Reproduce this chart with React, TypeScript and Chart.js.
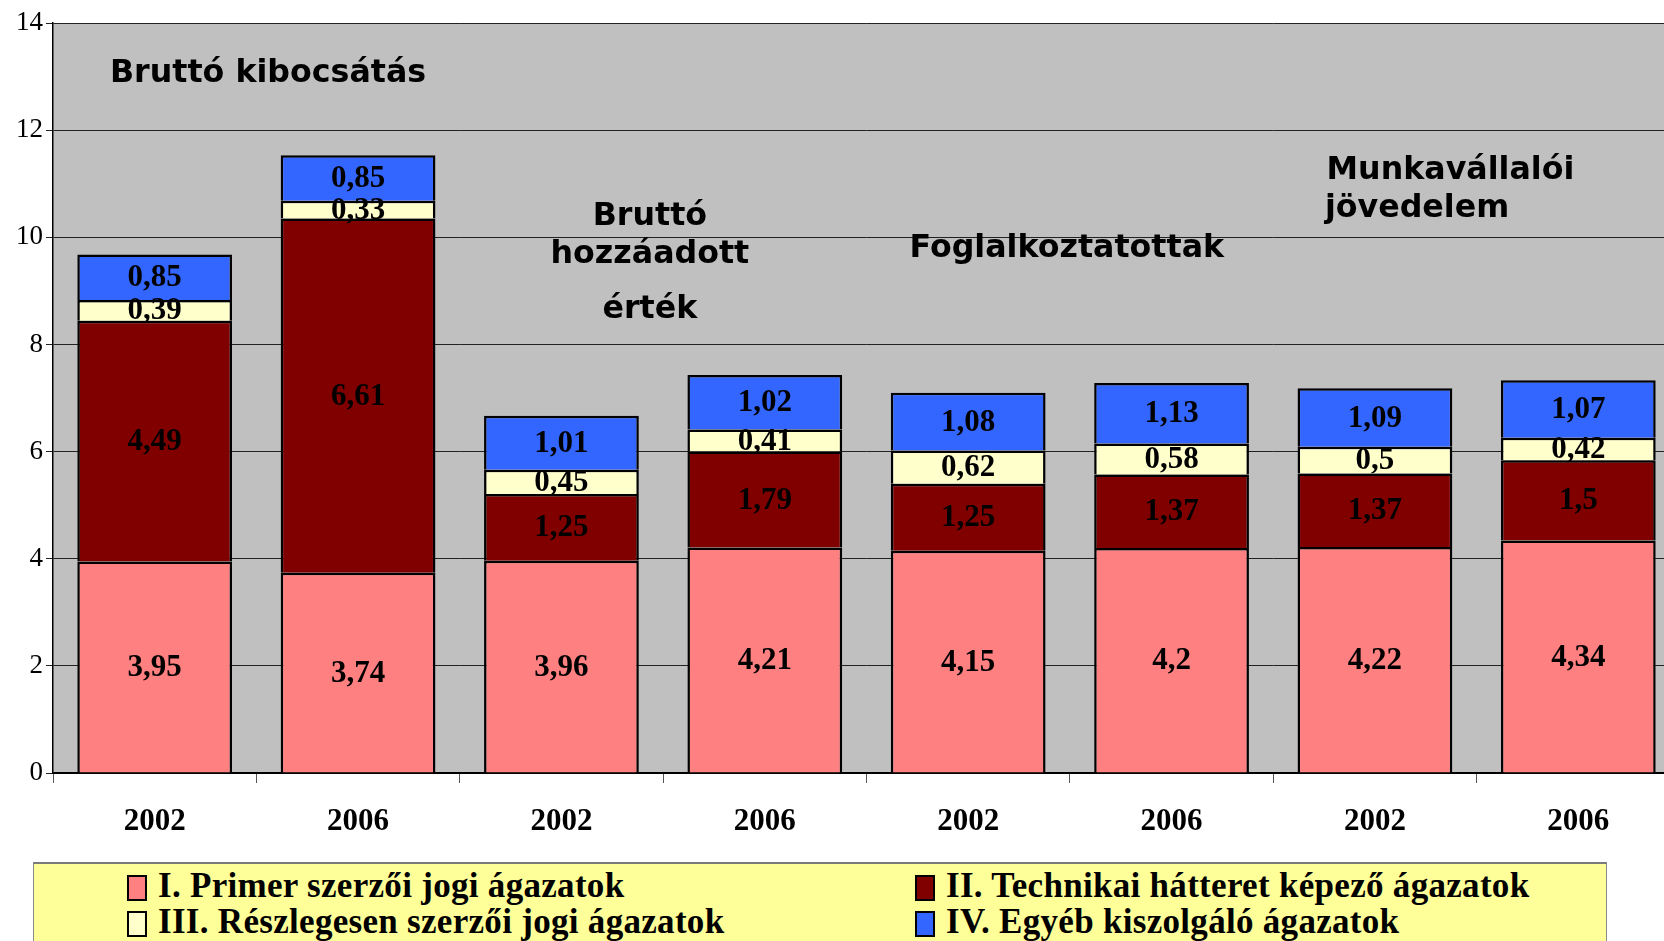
import React, { useEffect, useRef } from "react";
import { Chart, registerables } from "chart.js";

Chart.register(...registerables);

const categories = ["2002", "2006", "2002", "2006", "2002", "2006", "2002", "2006"];
const seriesNames = [
  "I. Primer szerzői jogi ágazatok",
  "II. Technikai hátteret képező ágazatok",
  "III. Részlegesen szerzői jogi ágazatok",
  "IV. Egyéb kiszolgáló ágazatok",
];
const primer = [3.95, 3.74, 3.96, 4.21, 4.15, 4.2, 4.22, 4.34];
const technikai = [4.49, 6.61, 1.25, 1.79, 1.25, 1.37, 1.37, 1.5];
const reszleges = [0.39, 0.33, 0.45, 0.41, 0.62, 0.58, 0.5, 0.42];
const egyeb = [0.85, 0.85, 1.01, 1.02, 1.08, 1.13, 1.09, 1.07];
const seriesValues = [primer, technikai, reszleges, egyeb];
const seriesColors = ["#FF8080", "#800000", "#FFFFCC", "#3366FF"];

const yMin = 0;
const yMax = 14;
const yStep = 2;

// group captions drawn on the plot (text, category-position, value-position, alignment)
const annotationTexts = [
  "Bruttó kibocsátás",
  "Bruttó",
  "hozzáadott",
  "érték",
  "Foglalkoztatottak",
  "Munkavállalói",
  "jövedelem",
];
const annotationX = [-0.22, 2.435, 2.435, 2.435, 4.485, 5.762, 5.754];
const annotationY = [12.9, 10.23, 9.52, 8.49, 9.64, 11.09, 10.38];
const annotationAlign: CanvasTextAlign[] = ["left", "center", "center", "center", "center", "left", "left"];

const formatValue = (v: number) => String(v).replace(".", ",");

const plotBackground = {
  id: "plotBackground",
  beforeDraw(chart: any) {
    const { ctx, chartArea } = chart;
    ctx.save();
    ctx.fillStyle = "#C0C0C0";
    ctx.fillRect(chartArea.left, chartArea.top, chartArea.right - chartArea.left, chartArea.bottom - chartArea.top);
    ctx.restore();
  },
};

const segmentLabels = {
  id: "segmentLabels",
  afterDatasetsDraw(chart: any) {
    const { ctx } = chart;
    ctx.save();
    ctx.font = 'bold 31px "Liberation Serif"';
    ctx.fillStyle = "#000";
    ctx.textAlign = "center";
    ctx.textBaseline = "middle";
    chart.data.datasets.forEach((ds: any, di: number) => {
      const meta = chart.getDatasetMeta(di);
      meta.data.forEach((el: any, i: number) => {
        const y = (el.y + el.base) / 2;
        ctx.fillText(formatValue(ds.data[i]), el.x, y + 1);
      });
    });
    ctx.restore();
  },
};

const captions = {
  id: "captions",
  afterDraw(chart: any) {
    const { ctx } = chart;
    const xs = chart.scales.x;
    const ys = chart.scales.y;
    ctx.save();
    ctx.font = 'bold 31.7px "DejaVu Sans"';
    ctx.fillStyle = "#000";
    ctx.textBaseline = "alphabetic";
    annotationTexts.forEach((t, i) => {
      ctx.textAlign = annotationAlign[i];
      ctx.fillText(t, xs.getPixelForValue(annotationX[i]), ys.getPixelForValue(annotationY[i]));
    });
    ctx.restore();
  },
};

function StackedChart() {
  const ref = useRef<HTMLCanvasElement | null>(null);
  useEffect(() => {
    if (!ref.current) return;
    const chart = new Chart(ref.current, {
      type: "bar",
      data: {
        labels: categories,
        datasets: seriesValues.map((vals, i) => ({
          label: seriesNames[i],
          data: vals,
          backgroundColor: seriesColors[i],
          borderColor: "#000",
          borderWidth: 2.5,
          categoryPercentage: 1,
          barPercentage: 0.761,
        })),
      },
      options: {
        responsive: false,
        animation: false,
        layout: { padding: { top: 23, left: 0, right: 0, bottom: 0 } },
        plugins: {
          legend: { display: false },
          tooltip: { enabled: false },
          title: { display: false },
        },
        scales: {
          x: {
            stacked: true,
            offset: true,
            grid: {
              display: true,
              drawOnChartArea: false,
              drawTicks: true,
              tickLength: 10,
              color: "#555",
              offset: true,
            },
            border: { display: true, color: "#000", width: 2 },
            ticks: {
              color: "#000",
              padding: 20,
              font: { family: "Liberation Serif", size: 31, weight: "bold" },
              maxRotation: 0,
              autoSkip: false,
            },
            afterFit(scale: any) {
              scale.height = 87;
            },
          },
          y: {
            stacked: true,
            min: yMin,
            max: yMax,
            ticks: {
              stepSize: yStep,
              color: "#000",
              padding: 3,
              font: { family: "Liberation Serif", size: 27 },
            },
            grid: { color: "#222", lineWidth: 1, tickLength: 7, drawTicks: true },
            border: { display: true, color: "#000", width: 1.5 },
            afterFit(scale: any) {
              scale.width = 53;
            },
          },
        },
      },
      plugins: [plotBackground, segmentLabels, captions],
    } as any);
    return () => chart.destroy();
  }, []);
  return (
    <canvas
      ref={ref}
      width={1680}
      height={860}
      style={{ position: "absolute", left: 0, top: 0, width: 1680, height: 860 }}
    />
  );
}

const legendRows = [
  [0, 1],
  [2, 3],
];
const legendColX = [127, 915];
const legendRowY = [869, 905];

export default function App() {
  return (
    <div
      style={{
        position: "fixed",
        left: 0,
        top: 0,
        width: 1664,
        height: 941,
        overflow: "hidden",
        background: "#fff",
      }}
    >
      <StackedChart />
      <div
        style={{
          position: "absolute",
          left: 33,
          top: 862,
          width: 1572,
          height: 120,
          background: "#FFFF99",
          borderTop: "2px solid #7a7a7a",
          borderLeft: "1.5px solid #8a8a8a",
          borderRight: "1.5px solid #8a8a8a",
        }}
      />
      {legendRows.map((row, r) =>
        row.map((si, c) => (
          <div
            key={si}
            style={{
              position: "absolute",
              left: legendColX[c],
              top: legendRowY[r],
              height: 34,
              whiteSpace: "nowrap",
            }}
          >
            <div
              style={{
                position: "absolute",
                left: 0,
                top: 6,
                width: 16,
                height: 22,
                background: seriesColors[si],
                border: "2px solid #000",
              }}
            />
            <span
              style={{
                position: "absolute",
                left: 31,
                top: -1,
                font: 'bold 35px "Liberation Serif"',
                lineHeight: "35px",
                color: "#000",
                letterSpacing: "0.3px",
              }}
            >
              {seriesNames[si]}
            </span>
          </div>
        ))
      )}
    </div>
  );
}
